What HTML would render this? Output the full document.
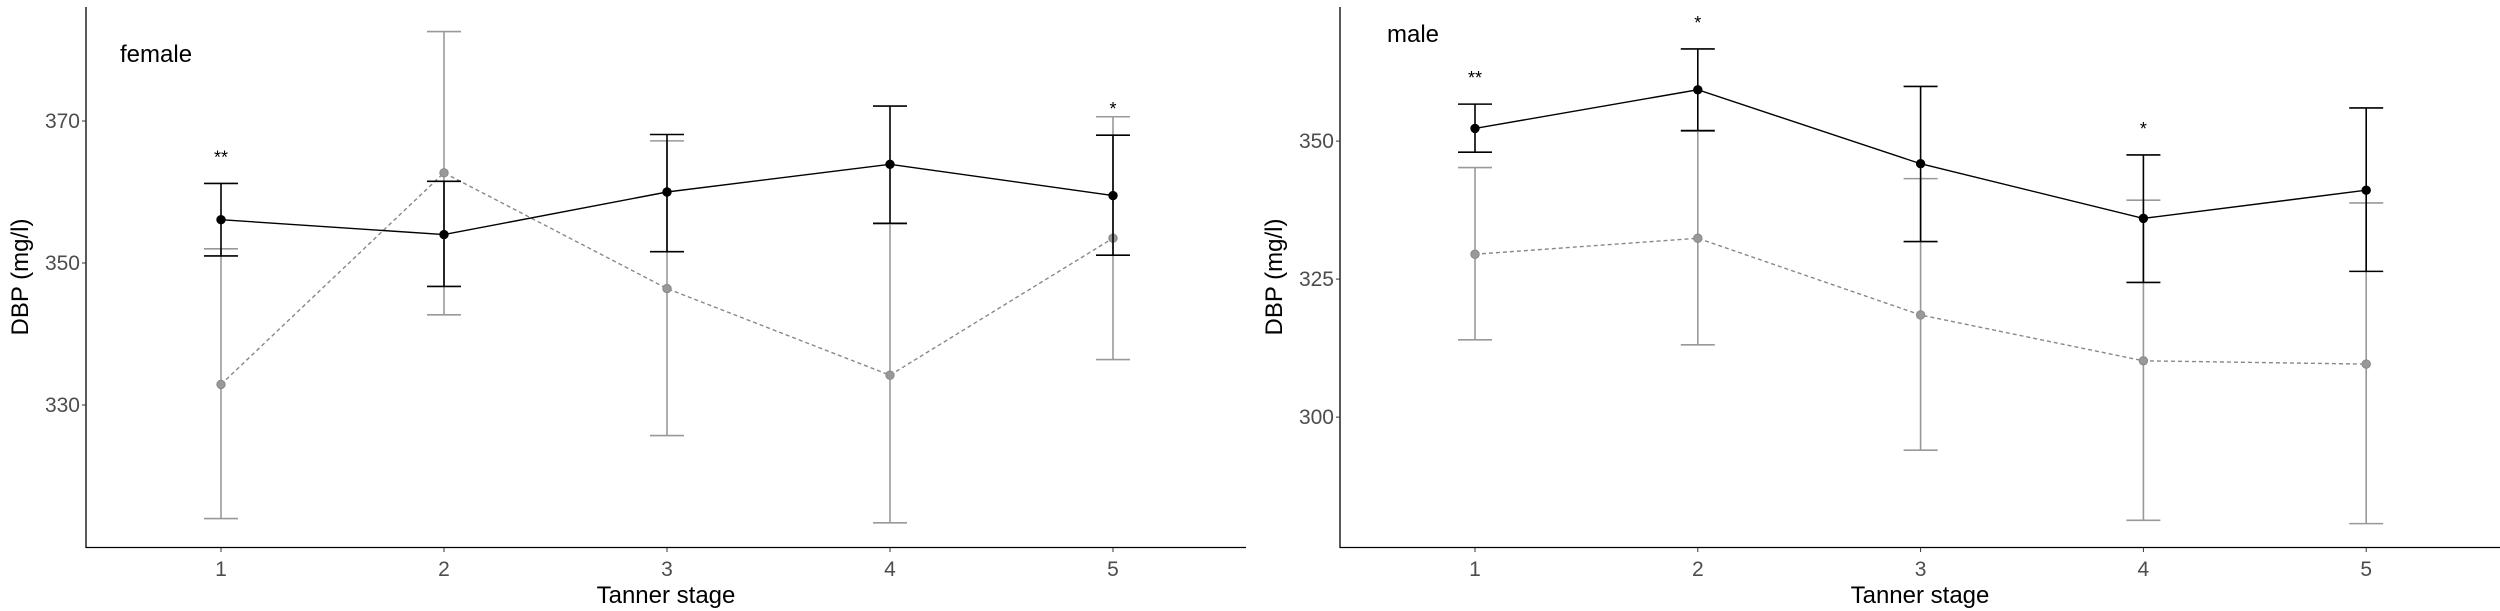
<!DOCTYPE html>
<html><head><meta charset="utf-8"><style>
html,body{margin:0;padding:0;background:#fff;}
svg{display:block;font-family:"Liberation Sans",Arial,sans-serif;}
</style></head><body>
<svg id="chart" width="2500" height="611" viewBox="0 0 2500 611" xmlns="http://www.w3.org/2000/svg"></svg>
<script>
const categories = [1, 2, 3, 4, 5];
const femaleHigh = [356.1, 354.0, 360.0, 363.9, 359.5];
const femaleHighUpper = [361.2, 361.5, 368.1, 372.1, 368.0];
const femaleHighLower = [351.0, 346.7, 351.6, 355.6, 351.1];
const femaleLow = [332.9, 362.7, 346.4, 334.2, 353.5];
const femaleLowUpper = [352.0, 382.6, 367.2, 355.5, 370.6];
const femaleLowLower = [314.0, 342.7, 325.7, 313.4, 336.4];
const femaleStars = ["**", "", "", "", "*"];
const femaleTicks = [330, 350, 370];

const maleHigh = [352.3, 359.3, 345.9, 336.0, 341.1];
const maleHighUpper = [356.7, 366.7, 359.9, 347.5, 356.0];
const maleHighLower = [348.0, 351.9, 331.8, 324.4, 326.4];
const maleLow = [329.5, 332.4, 318.5, 310.2, 309.6];
const maleLowUpper = [345.2, 351.8, 343.2, 339.3, 338.8];
const maleLowLower = [314.0, 313.1, 294.0, 281.3, 280.7];
const maleStars = ["**", "*", "", "*", ""];
const maleTicks = [300, 325, 350];

const NS = "http://www.w3.org/2000/svg";
const svg = document.getElementById("chart");
function mk(tag, attrs, parent, text) {
  const e = document.createElementNS(NS, tag);
  for (const k in attrs) e.setAttribute(k, attrs[k]);
  if (text !== undefined) e.textContent = text;
  (parent || svg).appendChild(e);
  return e;
}

function panel(cfg) {
  const g = mk("g", {});
  
  
  const xs = c => cfg.x1 + (c - 1) * cfg.dx;
  const ys = v => cfg.yRef - (v - cfg.vRef) * cfg.ppu;
  const ya = mk("line", {x1: cfg.axX, y1: 7, x2: cfg.axX, y2: 548, stroke: "#000", "stroke-width": 1.3}, g);
  
  
  const xa = mk("line", {x1: cfg.axX, y1: 547.5, x2: cfg.axEnd, y2: 547.5, stroke: "#000", "stroke-width": 1.3}, g);
  
  
  cfg.ticks.forEach(t => {
    const y = ys(t);
    mk("line", {x1: cfg.axX - 4, y1: y, x2: cfg.axX, y2: y, stroke: "#333", "stroke-width": 1}, g);
    const tl = mk("text", {x: cfg.axX - 6, y: y + 7, "text-anchor": "end", "font-size": 21, fill: "#4d4d4d"}, g, String(t));
    
    
  });
  categories.forEach(c => {
    const x = xs(c);
    mk("line", {x1: x, y1: 548, x2: x, y2: 552, stroke: "#333", "stroke-width": 1}, g);
    const tl = mk("text", {x: x, y: 576, "text-anchor": "middle", "font-size": 21, fill: "#4d4d4d"}, g, String(c));
    
    
  });
  const xt = mk("text", {x: cfg.xTitleX, y: 603, "text-anchor": "middle", "font-size": 24, fill: "#000"}, g, "Tanner stage");
  
  
  const yt = mk("text", {x: 0, y: 0, transform: `translate(${cfg.yTitleX},277) rotate(-90)`, "text-anchor": "middle", "font-size": 24, fill: "#000", "xml:space": "preserve"}, g, "DBP  (mg/l)");
  
  
  const pt = mk("text", {x: cfg.titleX, y: cfg.titleY, "font-size": 24, fill: "#000"}, g, cfg.name);
  
  

  function series(vals, up, lo, color, barColor, dash, fill, nm) {
    categories.forEach((c, i) => {
      const x = xs(c);
      const eb = mk("g", {stroke: barColor, "stroke-width": 1.6}, g);
      
      
      mk("line", {x1: x, y1: ys(up[i]), x2: x, y2: ys(lo[i])}, eb);
      mk("line", {x1: x - 17, y1: ys(up[i]), x2: x + 17, y2: ys(up[i])}, eb);
      mk("line", {x1: x - 17, y1: ys(lo[i]), x2: x + 17, y2: ys(lo[i])}, eb);
    });
    const pts = categories.map((c, i) => xs(c) + "," + ys(vals[i])).join(" ");
    const pl = mk("polyline", {points: pts, fill: "none", stroke: color, "stroke-width": 1.4, "stroke-dasharray": dash}, g);
    
    
    categories.forEach((c, i) => {
      const p = mk("circle", {cx: xs(c), cy: ys(vals[i]), r: 4.2, fill: fill, stroke: color, "stroke-width": 1}, g);
      
      
    });
  }
  series(cfg.low, cfg.lowU, cfg.lowL, "#888", "#999", "4,3", "#999", "low-group");
  series(cfg.high, cfg.highU, cfg.highL, "#000", "#000", "none", "#000", "high-group");
  categories.forEach((c, i) => {
    if (!cfg.stars[i]) return;
    const s = mk("text", {x: xs(c), y: ys(cfg.highU[i]) - 20, "text-anchor": "middle", "font-size": 18, fill: "#000"}, g, cfg.stars[i]);
    
    
  });
}

panel({name: "female", x1: 221, dx: 223, axX: 86, axEnd: 1246, yRef: 263, vRef: 350, ppu: 7.1,
  ticks: femaleTicks, xTitleX: 666, yTitleX: 28, titleX: 120, titleY: 62,
  high: femaleHigh, highU: femaleHighUpper, highL: femaleHighLower,
  low: femaleLow, lowU: femaleLowUpper, lowL: femaleLowLower, stars: femaleStars});
panel({name: "male", x1: 1475, dx: 222.8, axX: 1340, axEnd: 2500, yRef: 141.1, vRef: 350, ppu: 5.52,
  ticks: maleTicks, xTitleX: 1920, yTitleX: 1282, titleX: 1387, titleY: 42,
  high: maleHigh, highU: maleHighUpper, highL: maleHighLower,
  low: maleLow, lowU: maleLowUpper, lowL: maleLowLower, stars: maleStars});
</script>
</body></html>
